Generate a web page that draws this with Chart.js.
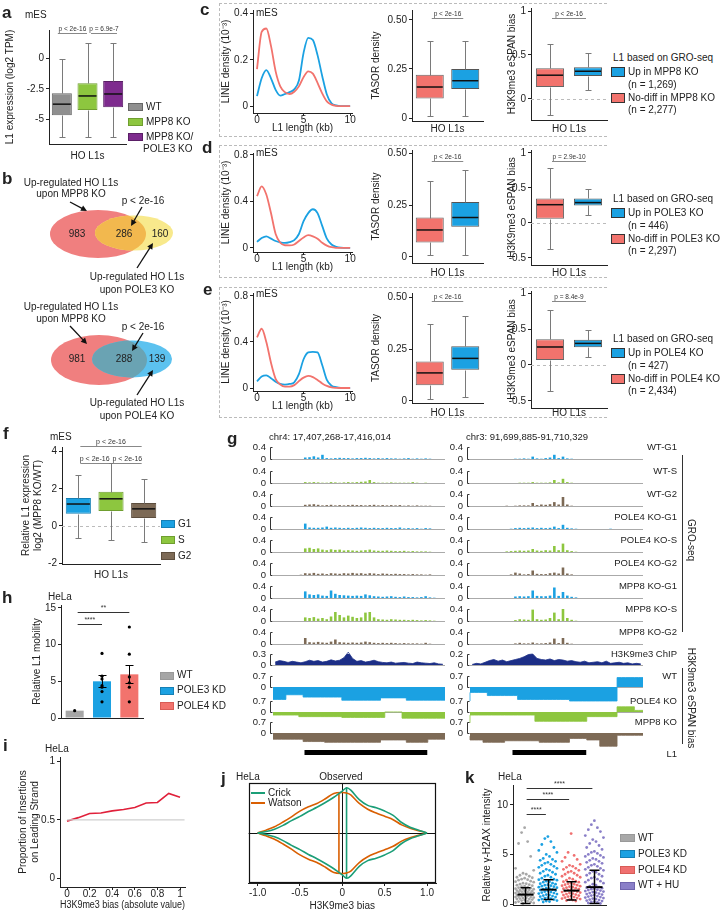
<!DOCTYPE html>
<html>
<head>
<meta charset="utf-8">
<title>L1 figure</title>
<script src="https://cdn.jsdelivr.net/npm/chart.js@4.4.1/dist/chart.umd.min.js"></script>
<style>
  body { margin: 0; background: #fff; }
  #page { position: relative; width: 721px; height: 914px; overflow: hidden; font-family: "Liberation Sans", Arial, sans-serif; color: #222; }
  #page canvas { position: absolute; }
  .t { position: absolute; white-space: nowrap; font-size: 10px; line-height: 1; transform: translateY(-50%); }
  .t.r { transform: translate(-100%, -50%); }
  .t.c { transform: translate(-50%, -50%); }
  .t.v { transform: translate(-50%, -50%) rotate(90deg); }
  .t.L { font-size: 17px; font-weight: bold; }
  .t.s { font-size: 9.5px; }
  .sw { position: absolute; box-sizing: border-box; border: 1px solid #555; }
  .ln { position: absolute; background: #333; }
  .dash { position: absolute; box-sizing: border-box; border-top: 1px dashed #bbb; border-bottom: 1px dashed #bbb; border-left: 1px dashed #bbb; }
</style>
</head>
<body>
<div id="page"></div>
<script>
// ==========================
// data
// ==========================

// ---------- a : L1 expression ----------
const aGroups = ['WT', 'MPP8 KO', 'MPP8 KO/POLE3 KO'];
// low whisker, Q1, median, Q3, high whisker
const aStats = [
    [-6.45, -4.65, -3.75, -2.85, -0.1],
    [-6.45, -4.22, -3.08, -2.05, 1.21],
    [-6.45, -4.0, -2.92, -1.86, 1.21]
];
const aTicks = [0, -2.5, -5];
const aTickLabels = ['0', '-2.5', '-5'];
const aPvals = ['p < 2e-16', 'p = 6.9e-7'];

// ---------- b : overlaps (MPP8 only, both, POLE only) ----------
const bPole3 = [983, 286, 160];
const bPole4 = [981, 288, 139];

// ---------- c-e : density + boxes ----------
const lenKb = [0, 0.5, 1, 1.5, 2, 2.5, 3, 3.5, 4, 4.5, 5, 5.5, 6, 6.5, 7, 7.5, 8, 8.5, 9, 10];
const cDensNo = [0.16, 0.32, 0.335, 0.26, 0.15, 0.085, 0.06, 0.052, 0.062, 0.085, 0.125, 0.15, 0.14, 0.1, 0.055, 0.02, 0.006, 0.001, 0, 0];
const cDensUp = [0.043, 0.12, 0.155, 0.12, 0.07, 0.045, 0.052, 0.06, 0.072, 0.11, 0.23, 0.295, 0.285, 0.22, 0.13, 0.05, 0.012, 0.003, 0, 0];
const dDensNo = [0.445, 0.53, 0.46, 0.3, 0.12, 0.045, 0.023, 0.022, 0.03, 0.06, 0.09, 0.11, 0.1, 0.08, 0.045, 0.02, 0.006, 0.001, 0, 0];
const dDensUp = [0.052, 0.085, 0.1, 0.08, 0.06, 0.048, 0.043, 0.05, 0.067, 0.12, 0.23, 0.3, 0.333, 0.3, 0.19, 0.08, 0.03, 0.01, 0.002, 0];
const eDensNo = [0.44, 0.515, 0.4, 0.22, 0.08, 0.03, 0.012, 0.012, 0.025, 0.06, 0.09, 0.105, 0.095, 0.07, 0.04, 0.018, 0.005, 0.001, 0, 0];
const eDensUp = [0.057, 0.1, 0.11, 0.085, 0.055, 0.035, 0.03, 0.035, 0.05, 0.12, 0.25, 0.31, 0.315, 0.31, 0.2, 0.07, 0.02, 0.007, 0.001, 0];

// [no-diff, up]  each: low, Q1, median, Q3, high
const cTasor = [[0.01, 0.10, 0.158, 0.22, 0.393], [0.01, 0.148, 0.19, 0.25, 0.393]];
const dTasor = [[0.01, 0.07, 0.13, 0.19, 0.365], [0.01, 0.145, 0.19, 0.265, 0.42]];
const eTasor = [[0.01, 0.075, 0.135, 0.19, 0.37], [0.018, 0.15, 0.205, 0.263, 0.41]];
const cEspan = [[-0.18, 0.136, 0.27, 0.35, 0.625], [0.1, 0.26, 0.315, 0.36, 0.52]];
const dEspan = [[-0.37, 0.06, 0.26, 0.35, 0.79], [0.12, 0.25, 0.29, 0.35, 0.49]];
const eEspan = [[-0.36, 0.07, 0.25, 0.357, 0.77], [0.107, 0.245, 0.3, 0.35, 0.49]];
const tasorTicks = [0, 0.25, 0.5];
const tasorLabels = ['0', '0.25', '0.50'];
const tasorP = ['p < 2e-16', 'p < 2e-16', 'p < 2e-16'];
const espanP = ['p < 2e-16', 'p = 2.9e-10', 'p = 8.4e-9'];
const cdeKO = ['MPP8 KO', 'POLE3 KO', 'POLE4 KO'];
const cdeNUp = ['1,269', '446', '427'];
const cdeNNo = ['2,277', '2,297', '2,434'];

// ---------- f : cell cycle ----------
const fGroups = ['G1', 'S', 'G2'];
const fStats = [
    [-0.65, 0.65, 1.18, 1.5, 2.75],
    [-0.75, 0.81, 1.46, 1.84, 3.4],
    [-0.85, 0.43, 0.92, 1.24, 2.54]
];
const fTicks = [4, 2, 0, -2];
const fTickLabels = ['4', '2', '0', '-2'];

// ---------- g : browser tracks (40 bins per locus) ----------
const groWtG1L = [0,0,0,0,0,0,0,.05,.06,.09,.05,.14,.03,.02,.03,.04,.03,.03,.02,.03,.03,.04,.03,.02,.03,.02,.03,.02,.02,.01,.02,.03,.01,.02,.01,.02,.01,0,0,0];
const groWtSL  = [0,0,0,0,0,0,0,.03,.02,.03,.02,.01,.01,.03,.02,.01,.02,.03,.02,.03,.04,.05,.1,.03,.01,.01,.01,.02,.01,.01,.01,.01,.03,.01,0,.01,0,0,0,0];
const groWtG2L = [0,0,0,0,0,0,0,.04,.05,.06,.04,.02,.03,.04,.02,.03,.02,.03,.04,.03,.03,.02,.03,.04,.02,.03,.02,.03,.02,.03,.01,.02,.01,.02,.01,.01,.01,0,0,0];
const groP4G1L = [0,0,0,0,0,0,0,.18,.05,.04,.04,.05,.08,.04,.05,.04,.03,.04,.03,.04,.05,.04,.03,.04,.03,.03,.04,.03,.03,.05,.02,.03,.02,.03,.01,.03,.02,0,0,0];
const groP4SL  = [0,0,0,0,0,0,0,.12,.14,.1,.12,.08,.06,.09,.07,.08,.05,.06,.05,.04,.05,.06,.08,.05,.04,.04,.05,.04,.03,.03,.04,.02,.03,.02,.02,.02,.01,0,0,0];
const groP4G2L = [0,0,0,0,0,0,.01,.06,.05,.07,.04,.05,.03,.06,.05,.04,.06,.05,.07,.05,.06,.04,.06,.05,.03,.05,.04,.03,.04,.03,.03,.02,.03,.02,.02,.01,.02,0,0,0];
const groM8G1L = [0,0,0,0,0,0,0,.22,.12,.1,.12,.08,.07,.25,.14,.1,.09,.08,.07,.08,.07,.12,.09,.06,.05,.04,.05,.06,.04,.03,.05,.03,.03,.02,.03,.06,.02,.01,0,0];
const groM8SL  = [0,0,0,0,0,0,0,.12,.1,.13,.08,.1,.06,.15,.3,.2,.12,.18,.14,.1,.12,.28,.3,.12,.06,.05,.04,.06,.05,.04,.04,.03,.04,.03,.02,.03,.02,.01,0,0];
const groM8G2L = [0,0,0,0,0,0,0,.2,.06,.05,.07,.05,.04,.08,.15,.06,.05,.04,.05,.04,.05,.08,.06,.04,.03,.04,.03,.04,.03,.02,.03,.02,.02,.02,.01,.04,.01,0,0,0];

const groWtG1R = [0,0,0,0,0,0,0,0,0,0,.01,.01,.02,.01,.08,.02,.01,.03,.05,.14,.03,.08,.02,.01,0,0,0,0,0,0,0,0,0,0,0,0,0,0,0,0];
const groWtSR  = [0,0,0,0,0,0,0,0,0,0,0,.01,.01,.01,.03,.01,.01,.01,.02,.1,.02,.14,.03,.01,0,0,0,0,0,0,0,0,0,0,0,0,0,0,0,0];
const groWtG2R = [0,0,0,0,0,0,0,0,.01,0,.01,.02,.02,.02,.1,.03,.05,.04,.06,.13,.05,.3,.05,.01,0,0,0,0,0,0,0,0,0,0,0,0,0,0,0,0];
const groP4G1R = [0,0,0,0,0,0,0,0,0,.01,.03,.04,.03,.04,.05,.03,.04,.03,.04,.08,.03,.14,.04,.02,.01,0,0,0,0,0,0,0,.01,0,0,0,0,0,0,0];
const groP4SR  = [0,0,0,0,0,0,0,0,.02,.03,.04,.05,.04,.05,.1,.05,.04,.06,.05,.2,.06,.28,.06,.03,.01,0,0,0,0,0,0,0,0,0,0,0,0,0,0,0];
const groP4G2R = [0,0,0,0,0,0,0,0,0,.02,.08,.05,.02,.03,.15,.04,.03,.03,.06,.08,.05,.25,.05,.02,0,0,0,0,0,0,0,0,0,0,0,0,0,0,0,0];
const groM8G1R = [0,0,0,0,0,0,0,0,0,0,.05,.06,.05,.06,.25,.07,.06,.06,.08,.35,.07,.2,.08,.04,.02,0,0,0,0,0,0,0,0,0,0,0,0,0,0,0];
const groM8SR  = [0,0,0,0,0,0,0,0,0,0,.03,.06,.05,.04,.38,.06,.04,.05,.1,.28,.06,.4,.1,.04,.01,0,0,0,0,0,0,0,0,0,0,0,0,0,0,0];
const groM8G2R = [0,0,0,0,0,0,0,0,0,0,.02,.04,.02,.02,.05,.02,.02,.03,.05,.18,.03,.2,.04,.01,0,0,0,0,0,0,0,0,0,0,0,0,0,0,0,0];

const chipL = [.08,.12,.1,.07,.1,.08,.06,.09,.13,.1,.12,.08,.1,.14,.11,.13,.2,.35,.18,.1,.12,.08,.1,.13,.09,.07,.06,.08,.05,.06,.07,.05,.04,.08,.06,.05,.04,.06,.03,.02];
const chipR = [.01,.03,.02,.05,.08,.1,.07,.09,.06,.08,.1,.12,.15,.19,.2,.12,.1,.09,.11,.08,.1,.09,.07,.08,.06,.05,.07,.04,.05,.06,.04,.07,.03,.04,.05,.03,.04,.02,.03,.02];

const espWtL = [-.8,-.8,-.8,-.8,-.5,-.5,-.5,-.5,-.65,-.65,-.65,-.65,-.65,-.65,-.65,-.65,-.65,-.85,-.85,-.85,-.85,-.85,-.85,-.85,-.85,-.85,-.7,-.7,-.7,-.7,-.7,-.7,-.85,-.85,-.85,-.85,-.85,-.85,-.85,-.85];
const espWtR = [-.9,-.35,-.35,-.35,-.35,-.55,-.55,-.55,-.55,-.55,-.55,-.55,-.8,-.8,-.8,-.8,-.8,-.8,-.8,-.8,-.8,-.8,-.8,-.8,-.9,-.9,-.9,-.9,-.9,-.9,-.9,-.9,-.9,-.9,-.9,.6,.6,.6,.6,.6];
const espP4L = [-.2,-.2,-.2,-.2,-.2,-.2,-.2,-.3,-.3,-.3,-.3,-.3,-.3,-.3,-.3,-.3,-.3,-.35,-.35,-.35,-.35,-.35,-.35,-.35,-.35,-.35,-.35,0,0,0,0,-.4,-.4,-.4,-.4,-.4,-.4,-.4,-.4,-.4];
const espP4R = [-.7,-.2,-.2,-.2,-.2,-.2,-.2,-.2,-.2,-.2,-.2,-.2,-.2,-.2,-.2,-.2,-.6,-.6,-.6,-.6,-.6,-.6,-.6,-.6,-.6,-.6,-.6,-.6,-.3,-.3,-.3,-.3,-.3,-.3,-.3,.33,.33,.33,.33,.1];
const espM8L = [-.4,-.4,-.4,-.4,-.4,-.4,-.4,-.4,-.55,-.55,-.55,-.55,-.55,-.6,-.6,-.6,-.6,-.6,-.6,-.6,-.6,-.6,-.6,-.6,-.6,-.6,-.45,-.45,-.45,-.45,-.45,-.45,-.6,-.6,-.6,-.6,-.6,-.4,-.4,-.4];
const espM8R = [-.2,-.45,-.45,-.45,-.6,-.6,-.6,-.6,-.6,-.5,-.5,-.5,-.5,-.5,-.5,-.5,-.5,-.6,-.6,-.6,-.6,-.6,-.6,-.6,-.35,-.35,-.35,-.35,-.45,-.45,-.45,-.85,-.85,-.85,-.85,-.15,-.15,-.15,-.15,-.15];

const l1SpanL = [7.4, 35.8];
const l1SpanR = [9.9, 26.8];
const gTrackNames = ['WT-G1', 'WT-S', 'WT-G2', 'POLE4 KO-G1', 'POLE4 KO-S', 'POLE4 KO-G2', 'MPP8 KO-G1', 'MPP8 KO-S', 'MPP8 KO-G2', 'H3K9me3 ChIP', 'WT', 'POLE4 KO', 'MPP8 KO'];

// ---------- h : L1 mobility ----------
const hGroups = ['WT', 'POLE3 KD', 'POLE4 KD'];
const hMean = [1, 5.0, 5.95];
const hErrLo = [1, 4.2, 4.8];
const hErrHi = [1, 5.85, 7.2];
const hPts = [[1.0], [8.8, 5.7, 5.3, 4.4, 4.2, 3.6, 2.2], [12.4, 8.7, 5.6, 4.8, 4.2, 2.2]];
const hTicks = [0, 5, 10, 15];

// ---------- i : leading strand ----------
const iBias = [0, 0.1, 0.2, 0.3, 0.4, 0.5, 0.6, 0.7, 0.8, 0.9, 1.0];
const iProp = [0.49, 0.52, 0.555, 0.56, 0.578, 0.59, 0.607, 0.645, 0.65, 0.728, 0.695];
const iRef = 0.5;

// ---------- j : observed bias ----------
const jBias = [-1, -0.9, -0.8, -0.7, -0.6, -0.5, -0.4, -0.3, -0.2, -0.1, 0, 0.05, 0.1, 0.2, 0.3, 0.4, 0.5, 0.6, 0.7, 0.8, 0.9, 1];
const jWatson = [0, 0.06, 0.13, 0.23, 0.34, 0.46, 0.55, 0.62, 0.72, 0.83, 0.85, 0.84, 0.8, 0.62, 0.5, 0.42, 0.35, 0.28, 0.17, 0.1, 0.05, 0];
const jCrick = [0, 0.03, 0.08, 0.16, 0.26, 0.35, 0.45, 0.54, 0.64, 0.75, 0.88, 0.95, 0.9, 0.7, 0.58, 0.53, 0.46, 0.37, 0.22, 0.12, 0.06, 0];
const jObsWatson = -0.04;
const jObsCrick = 0.05;

// ---------- k : gamma-H2AX ----------
const kGroups = ['WT', 'POLE3 KD', 'POLE4 KD', 'WT + HU'];
const kWT = [7.7, 7.2, 6.3, 6.1, 4.8, 3.6, 3.4, 3.1, 3.0, 2.9, 2.8, 2.7, 2.65, 2.6, 2.5, 2.45, 2.4, 2.3, 2.25, 2.2, 2.1, 2.05, 2.0, 1.95, 1.9, 1.85, 1.8, 1.75, 1.7, 1.65, 1.6, 1.55, 1.5, 1.5, 1.45, 1.4, 1.4, 1.35, 1.3, 1.3, 1.25, 1.2, 1.2, 1.15, 1.1, 1.1, 1.05, 1.0, 1.0, 0.95, 0.9, 0.9, 0.85, 0.8, 0.8, 0.75, 0.7, 0.7, 0.65, 0.6, 0.6, 0.55, 0.5, 0.5, 0.45, 0.4, 0.35, 0.3, 0.25, 0.2, 0.15, 0.1, 0.05];
const kPole3 = [6.8, 6.6, 6.3, 6.0, 5.7, 5.4, 5.2, 5.0, 4.8, 4.6, 4.5, 4.4, 4.3, 4.2, 4.1, 4.0, 3.9, 3.8, 3.7, 3.6, 3.5, 3.4, 3.3, 3.2, 3.1, 3.0, 2.9, 2.8, 2.7, 2.6, 2.5, 2.45, 2.4, 2.3, 2.25, 2.2, 2.1, 2.05, 2.0, 1.95, 1.9, 1.85, 1.8, 1.75, 1.7, 1.65, 1.6, 1.55, 1.5, 1.45, 1.4, 1.35, 1.3, 1.25, 1.2, 1.15, 1.1, 1.05, 1.0, 0.95, 0.9, 0.85, 0.8, 0.75, 0.7, 0.65, 0.6, 0.55, 0.5, 0.45, 0.4, 0.35, 0.3, 0.25, 0.2];
const kPole4 = [7.1, 5.2, 4.9, 4.7, 4.5, 4.3, 4.0, 3.9, 3.8, 3.7, 3.6, 3.5, 3.4, 3.3, 3.2, 3.1, 3.0, 2.9, 2.8, 2.7, 2.6, 2.5, 2.4, 2.3, 2.25, 2.2, 2.1, 2.05, 2.0, 1.95, 1.9, 1.85, 1.8, 1.75, 1.7, 1.65, 1.6, 1.55, 1.5, 1.45, 1.4, 1.35, 1.3, 1.25, 1.2, 1.15, 1.1, 1.05, 1.0, 0.95, 0.9, 0.85, 0.8, 0.75, 0.7, 0.65, 0.6, 0.55, 0.5, 0.45, 0.4, 0.35, 0.3];
const kHU = [8.4, 8.0, 7.7, 7.5, 7.3, 6.9, 6.7, 6.5, 6.3, 6.1, 5.9, 5.7, 5.5, 5.3, 5.2, 5.1, 5.0, 4.9, 4.8, 4.7, 4.6, 4.5, 4.4, 4.3, 4.2, 4.1, 4.0, 3.9, 3.8, 3.7, 3.6, 3.5, 3.4, 3.3, 3.2, 3.1, 3.0, 2.9, 2.8, 2.7, 2.6, 2.5, 2.4, 2.3, 2.2, 2.1, 2.0, 1.9, 1.8, 1.7, 1.65, 1.6, 1.55, 1.5, 1.45, 1.4, 1.35, 1.3, 1.25, 1.2, 1.15, 1.1, 1.05, 1.0, 0.95, 0.9, 0.85, 0.8, 0.75, 0.7, 0.65, 0.6, 0.55, 0.5, 0.45, 0.4, 0.35, 0.3, 0.25, 0.2, 0.15, 0.1, 0.05];
const kMean = [0.95, 1.45, 1.35, 1.7];
const kSdLo = [0.05, 0.45, 0.4, 0.05];
const kSdHi = [1.65, 2.45, 2.25, 3.4];
const kTicks = [0, 5, 10];

// ==========================
// styling / helpers
// ==========================

Chart.defaults.font.family = '"Liberation Sans", Arial, sans-serif';
Chart.defaults.font.size = 10;
Chart.defaults.color = '#222';
Chart.defaults.animation = false;
Chart.defaults.responsive = false;
Chart.defaults.plugins.legend.display = false;
Chart.defaults.plugins.tooltip.enabled = false;

const INK = '#222';
const RED = '#f2736d';
const BLUE = '#1ba1e2';
const GREEN = '#8dc63f';
const BROWN = '#7d6a56';
const GRAY = '#8f8f8f';
const PURPLE = '#7e2b8e';
const NAVY = '#1c2e86';
const PADB = 8;

const page = document.getElementById('page');

// canvas whose chart area lands on [L,R] x [T,B] of the page
function makeCanvas(L, T, R, B, yW, xH, padT, padR, padB) {
    const c = document.createElement('canvas');
    c.width = Math.round(R - L + yW + padR);
    c.height = Math.round(B - T + xH + padT + padB);
    c.style.left = Math.round(L - yW) + 'px';
    c.style.top = Math.round(T - padT) + 'px';
    page.appendChild(c);
    return c;
}

function txt(x, y, s, cls, extra) {
    const d = document.createElement('div');
    d.className = 't ' + (cls || '');
    d.style.left = x + 'px';
    d.style.top = y + 'px';
    if (extra) d.style.cssText += extra;
    d.textContent = s;
    page.appendChild(d);
}

function box(cls, x, y, w, h, extra) {
    const d = document.createElement('div');
    d.className = cls;
    d.style.cssText = `left:${x}px;top:${y}px;width:${w}px;height:${h}px;` + (extra || '');
    page.appendChild(d);
}

function yLin(min, max, ticks, labels, w, title) {
    return {
        type: 'linear', min: min, max: max,
        afterBuildTicks: s => { s.ticks = ticks.map(v => ({value: v})); },
        afterFit: s => { s.width = w; },
        border: {color: INK},
        grid: {drawOnChartArea: false, tickLength: 3, color: INK},
        ticks: {padding: 2, autoSkip: false, callback: v => labels[ticks.indexOf(v)]},
        title: title ? {display: true, text: title, padding: 0} : {display: false}
    };
}

function xCat(h, title) {
    return {
        type: 'category', offset: true,
        afterFit: s => { s.height = h; },
        border: {color: INK},
        grid: {display: false, drawTicks: false},
        ticks: {display: false},
        title: title ? {display: true, text: title, padding: 0} : {display: false}
    };
}

function xLin(min, max, ticks, labels, h, title, pad) {
    return {
        type: 'linear', min: min, max: max,
        afterBuildTicks: s => { s.ticks = ticks.map(v => ({value: v})); },
        afterFit: s => { s.height = h; },
        border: {color: INK},
        grid: {drawOnChartArea: false, tickLength: 3, color: INK},
        ticks: {padding: pad, autoSkip: false, maxRotation: 0, callback: v => labels[ticks.indexOf(v)]},
        title: title ? {display: true, text: title, padding: 0} : {display: false}
    };
}

// ---------- plugins ----------

function boxLayer(stats, cap) {
    return {
        id: 'boxLayer',
        afterDatasetsDraw(chart) {
            const ctx = chart.ctx, y = chart.scales.y;
            const py = v => Math.round(y.getPixelForValue(v)) + 0.5;
            chart.getDatasetMeta(0).data.forEach((bar, i) => {
                const s = stats[i];
                const x = Math.round(bar.x) + 0.5, hw = bar.width / 2;
                ctx.save();
                ctx.strokeStyle = '#7a7a7a';
                ctx.lineWidth = 1;
                ctx.beginPath();
                ctx.moveTo(x, py(s[3])); ctx.lineTo(x, py(s[4]));
                ctx.moveTo(x - cap, py(s[4])); ctx.lineTo(x + cap, py(s[4]));
                ctx.moveTo(x, py(s[1])); ctx.lineTo(x, py(s[0]));
                ctx.moveTo(x - cap, py(s[0])); ctx.lineTo(x + cap, py(s[0]));
                ctx.stroke();
                ctx.strokeStyle = '#111';
                ctx.lineWidth = 1.5;
                ctx.beginPath();
                ctx.moveTo(bar.x - hw + 1, y.getPixelForValue(s[2]));
                ctx.lineTo(bar.x + hw - 1, y.getPixelForValue(s[2]));
                ctx.stroke();
                ctx.restore();
            });
        }
    };
}

// items: [from, to, value, text, insetFrom, insetTo]
function bracketLayer(items, size, lineColor) {
    return {
        id: 'bracketLayer',
        afterDatasetsDraw(chart) {
            const ctx = chart.ctx, x = chart.scales.x, y = chart.scales.y;
            ctx.save();
            ctx.strokeStyle = lineColor;
            ctx.lineWidth = 1;
            ctx.fillStyle = '#333';
            ctx.font = size + 'px "Liberation Sans", Arial, sans-serif';
            ctx.textAlign = 'center';
            ctx.textBaseline = 'bottom';
            items.forEach(it => {
                const x1 = x.getPixelForValue(it[0]) + (it[4] === undefined ? 2 : it[4]);
                const x2 = x.getPixelForValue(it[1]) + (it[5] === undefined ? -2 : it[5]);
                const p = Math.round(y.getPixelForValue(it[2])) + 0.5;
                ctx.beginPath(); ctx.moveTo(x1, p); ctx.lineTo(x2, p); ctx.stroke();
                ctx.fillText(it[3], (x1 + x2) / 2, p - 1);
            });
            ctx.restore();
        }
    };
}

function zeroLayer(color) {
    return {
        id: 'zeroLayer',
        beforeDatasetsDraw(chart) {
            const {ctx, chartArea: a} = chart;
            const p = Math.round(chart.scales.y.getPixelForValue(0)) + 0.5;
            ctx.save();
            ctx.strokeStyle = color;
            ctx.setLineDash([3, 3]);
            ctx.beginPath(); ctx.moveTo(a.left, p); ctx.lineTo(a.right, p); ctx.stroke();
            ctx.restore();
        }
    };
}

function trackFrame(topVal) {
    return {
        id: 'trackFrame',
        beforeDatasetsDraw(chart) {
            const {ctx, chartArea: a} = chart;
            const p = Math.round(chart.scales.y.getPixelForValue(0)) + 0.5;
            ctx.save();
            ctx.strokeStyle = '#aaa';
            ctx.beginPath(); ctx.moveTo(a.left, p); ctx.lineTo(a.right, p); ctx.stroke();
            ctx.restore();
        },
        afterDraw(chart) {
            const {ctx, chartArea: a} = chart, y = chart.scales.y;
            const y0 = Math.round(y.getPixelForValue(0)) + 0.5;
            const y1 = Math.round(y.getPixelForValue(topVal)) + 0.5;
            const x = Math.round(a.left) - 2.5;
            ctx.save();
            ctx.strokeStyle = '#333';
            ctx.beginPath();
            ctx.moveTo(x + 2, y1); ctx.lineTo(x, y1); ctx.lineTo(x, y0); ctx.lineTo(x + 2, y0);
            ctx.stroke();
            ctx.restore();
        }
    };
}

// ---------- chart builders ----------

function boxChart(o) {
    const cv = makeCanvas(o.L, o.T, o.R, o.B, o.yW, o.xH, 12, 6, PADB);
    const plugins = [boxLayer(o.stats, o.cap || 3), bracketLayer(o.brackets, o.pSize || 7, '#888')];
    if (o.zero) plugins.unshift(zeroLayer('#bbb'));
    new Chart(cv, {
        type: 'bar',
        data: {
            labels: o.labels,
            datasets: [{
                data: o.stats.map(s => [s[1], s[3]]),
                backgroundColor: o.fill, borderColor: o.edge, borderWidth: 1, borderSkipped: false,
                barPercentage: o.frac, categoryPercentage: 1
            }]
        },
        options: {
            layout: {padding: {left: 0, top: 12, right: 6, bottom: PADB}},
            scales: {
                x: xCat(o.xH, o.xTitle),
                y: yLin(o.min, o.max, o.ticks, o.tickLabels, o.yW, o.title)
            }
        },
        plugins: plugins
    });
}

function densityChart(o) {
    const cv = makeCanvas(253, o.T, 352, o.B, 33, 21, 8, 8, PADB);
    const line = (vals, color) => ({
        data: lenKb.map((x, i) => ({x: x, y: vals[i]})),
        borderColor: color, borderWidth: 1.8, pointRadius: 0,
        tension: 0.4, cubicInterpolationMode: 'monotone', fill: false
    });
    new Chart(cv, {
        type: 'line',
        data: {datasets: [line(o.no, RED), line(o.up, BLUE)]},
        options: {
            layout: {padding: {left: 0, top: 8, right: 8, bottom: PADB}},
            scales: {
                x: xLin(-0.43, 10.2, [0, 5, 10], ['0', '5', '10'], 21, 'L1 length (kb)', -2),
                y: yLin(o.min, o.max, o.ticks, o.labels, 33, 'LINE density (10\u207B\u00B3)')
            }
        }
    });
}

function trackChart(o) {
    const cv = makeCanvas(o.L, o.T, o.R, o.B, o.yW, 0, 14, 2, 14);
    const yAxis = {
        type: 'linear', min: o.min, max: o.max,
        afterBuildTicks: s => { s.ticks = o.ticks.map(v => ({value: v})); },
        afterFit: s => { s.width = o.yW; },
        border: {display: false},
        grid: {display: false, drawTicks: false},
        ticks: {padding: 7, autoSkip: false, font: {size: 9.5}, callback: v => o.labels[o.ticks.indexOf(v)]}
    };
    let data, xAxis;
    if (o.kind === 'bar') {
        xAxis = {type: 'category', display: false, offset: true};
        data = {
            labels: o.vals.map((v, i) => i),
            datasets: [{data: o.vals, backgroundColor: o.color, barPercentage: 0.6, categoryPercentage: 1, clip: false}]
        };
    } else {
        xAxis = {type: 'linear', display: false, min: 0, max: o.vals.length};
        const pts = o.kind === 'step'
            ? o.vals.map((v, i) => ({x: i, y: v})).concat([{x: o.vals.length, y: o.vals[o.vals.length - 1]}])
            : o.vals.map((v, i) => ({x: i + 0.5, y: v}));
        data = {
            datasets: [{
                data: pts, stepped: o.kind === 'step' ? 'after' : false, fill: 'origin',
                backgroundColor: o.color, borderColor: o.color, borderWidth: 0.8, pointRadius: 0, tension: 0, clip: false
            }]
        };
    }
    new Chart(cv, {
        type: o.kind === 'bar' ? 'bar' : 'line',
        data: data,
        options: {layout: {padding: {left: 0, top: 14, right: 2, bottom: 14}}, scales: {x: xAxis, y: yAxis}},
        plugins: [trackFrame(o.ticks[o.ticks.length - 1])]
    });
}

function l1Bar(L, R, span) {
    const cv = makeCanvas(L, 750, R, 755, 0, 0, 2, 2, 2);
    new Chart(cv, {
        type: 'bar',
        data: {labels: ['L1'], datasets: [{data: [span], backgroundColor: '#000', barPercentage: 1, categoryPercentage: 1}]},
        options: {
            indexAxis: 'y',
            layout: {padding: {left: 0, top: 2, right: 2, bottom: 2}},
            scales: {x: {type: 'linear', min: 0, max: 40, display: false}, y: {display: false}}
        }
    });
}

// ==========================
// a
// ==========================
boxChart({
    L: 49, T: 30, R: 126, B: 144, yW: 45, xH: 18, min: -7, max: 2.3,
    ticks: aTicks, tickLabels: aTickLabels, labels: aGroups, stats: aStats,
    fill: [GRAY, GREEN, PURPLE], edge: ['#666', '#6f9e2f', '#5a1f66'], frac: 0.78, cap: 3,
    title: 'L1 expression (log2 TPM)', xTitle: 'HO L1s',
    brackets: [[0, 1, 2.06, aPvals[0], -4, -0.5], [1, 2, 2.06, aPvals[1], 3.5, 3.8]], pSize: 6.5
});
txt(2, 12, 'a', 'L');
txt(25, 15, 'mES');
box('sw', 128, 103, 15, 8, `background:${GRAY};border-color:#666`);
box('sw', 128, 118, 15, 8, `background:${GREEN};border-color:#6f9e2f`);
box('sw', 128, 133, 15, 8, `background:${PURPLE};border-color:#5a1f66`);
txt(146, 107, 'WT');
txt(146, 122, 'MPP8 KO');
txt(146, 137, 'MPP8 KO/');
txt(143, 149, 'POLE3 KO');

// ==========================
// b : Venn diagrams
// ==========================
function arrow(ctx, x1, y1, x2, y2) {
    const ang = Math.atan2(y2 - y1, x2 - x1);
    ctx.save();
    ctx.strokeStyle = '#111';
    ctx.fillStyle = '#111';
    ctx.lineWidth = 1.3;
    ctx.beginPath(); ctx.moveTo(x1, y1);
    ctx.lineTo(x2 - 4 * Math.cos(ang), y2 - 4 * Math.sin(ang)); ctx.stroke();
    ctx.beginPath();
    ctx.moveTo(x2, y2);
    ctx.lineTo(x2 - 6 * Math.cos(ang) + 3 * Math.sin(ang), y2 - 6 * Math.sin(ang) - 3 * Math.cos(ang));
    ctx.lineTo(x2 - 6 * Math.cos(ang) - 3 * Math.sin(ang), y2 - 6 * Math.sin(ang) + 3 * Math.cos(ang));
    ctx.closePath(); ctx.fill();
    ctx.restore();
}

const vennLayout = [
    {counts: bPole3, a: [98, 64, 48, 24], b: [134, 63, 39, 17.5], colA: '#f07f7f', colB: '#f8e98c', colAB: '#f2b84e',
     at: [77, 124, 160], ty: 64, arrows: [[70, 32, 87, 41], [142, 37, 131, 56], [137, 98, 153, 73]]},
    {counts: bPole4, a: [99, 190, 48, 25], b: [132, 189, 40, 18.5], colA: '#f07f7f', colB: '#5cc2ef', colAB: '#6aa3b3',
     at: [77, 124, 157], ty: 189, arrows: [[70, 156, 87, 174], [143, 163, 132, 181], [137, 225, 153, 200]]}
];
{
    const cv = makeCanvas(0, 170, 200, 430, 0, 0, 0, 0, 0);
    new Chart(cv, {
        type: 'scatter',
        data: {datasets: [{data: []}]},
        options: {
            layout: {padding: 0},
            scales: {
                x: {type: 'linear', min: 0, max: 200, display: false},
                y: {type: 'linear', min: 0, max: 260, reverse: true, display: false}
            }
        },
        plugins: [{
            id: 'venn',
            afterDraw(chart) {
                const ctx = chart.ctx, X = chart.scales.x, Y = chart.scales.y;
                const ell = e => {
                    ctx.beginPath();
                    ctx.ellipse(X.getPixelForValue(e[0]), Y.getPixelForValue(e[1]),
                        X.getPixelForValue(e[0] + e[2]) - X.getPixelForValue(e[0]),
                        Y.getPixelForValue(e[1] + e[3]) - Y.getPixelForValue(e[1]), 0, 0, Math.PI * 2);
                };
                vennLayout.forEach(s => {
                    ctx.save();
                    ell(s.a); ctx.fillStyle = s.colA; ctx.fill();
                    ell(s.b); ctx.fillStyle = s.colB; ctx.fill();
                    ell(s.a); ctx.clip();
                    ell(s.b); ctx.fillStyle = s.colAB; ctx.fill();
                    ctx.restore();
                    ctx.save();
                    ctx.fillStyle = '#222';
                    ctx.font = '10px "Liberation Sans", Arial, sans-serif';
                    ctx.textAlign = 'center';
                    ctx.textBaseline = 'middle';
                    s.counts.forEach((n, i) => ctx.fillText(String(n), X.getPixelForValue(s.at[i]), Y.getPixelForValue(s.ty)));
                    ctx.restore();
                    s.arrows.forEach(a => arrow(ctx, X.getPixelForValue(a[0]), Y.getPixelForValue(a[1]),
                        X.getPixelForValue(a[2]), Y.getPixelForValue(a[3])));
                });
            }
        }]
    });
}
txt(2, 178, 'b', 'L');
txt(71, 183, 'Up-regulated HO L1s', 'c');
txt(71, 194, 'upon MPP8 KO', 'c');
txt(143, 201, 'p < 2e-16', 'c');
txt(137, 277, 'Up-regulated HO L1s', 'c');
txt(137, 290, 'upon POLE3 KO', 'c');
txt(71, 307, 'Up-regulated HO L1s', 'c');
txt(71, 319, 'upon MPP8 KO', 'c');
txt(143, 327, 'p < 2e-16', 'c');
txt(137, 403, 'Up-regulated HO L1s', 'c');
txt(137, 416, 'upon POLE4 KO', 'c');

// ==========================
// c, d, e
// ==========================
const cdeGeom = [
    {dens: {T: 10, B: 113, min: -0.03, max: 0.415, ticks: [0, 0.2, 0.4], labels: ['0', '0.2', '0.4']},
     tas: {T: 10, B: 121, min: -0.015, max: 0.55, xH: 14, p: 0.509},
     esp: {T: 8, B: 120, min: -0.24, max: 1.035, ticks: [0, 0.5, 1], labels: ['0', '0.5', '1'], xH: 15, p: 0.92},
     box: [3, 134], letter: 9, mes: 13, leg: 58},
    {dens: {T: 153, B: 252, min: -0.035, max: 0.817, ticks: [0, 0.4, 0.8], labels: ['0', '0.4', '0.8']},
     tas: {T: 150, B: 263, min: -0.029, max: 0.515, xH: 16, p: 0.462},
     esp: {T: 150, B: 265, min: -0.6, max: 1.04, ticks: [-0.5, 0, 0.5, 1], labels: ['-0.5', '0', '0.5', '1'], xH: 14, p: 0.883},
     box: [145, 133], letter: 147, mes: 153, leg: 199},
    {dens: {T: 293, B: 391, min: -0.026, max: 0.826, ticks: [0, 0.4, 0.8], labels: ['0', '0.4', '0.8']},
     tas: {T: 293, B: 403, min: -0.01, max: 0.52, xH: 16, p: 0.48},
     esp: {T: 291, B: 408, min: -0.6, max: 1.03, ticks: [-0.5, 0, 0.5, 1], labels: ['-0.5', '0', '0.5', '1'], xH: 11, p: 0.89},
     box: [287, 131], letter: 289, mes: 294, leg: 339}
];
const cdeDens = [[cDensUp, cDensNo], [dDensUp, dDensNo], [eDensUp, eDensNo]];
const cdeTasor = [cTasor, dTasor, eTasor];
const cdeEspan = [cEspan, dEspan, eEspan];
const cdeLetter = ['c', 'd', 'e'];
const cdeLetterX = [200, 202, 203];

cdeGeom.forEach((g, k) => {
    box('dash', 219, g.box[0], 388, g.box[1]);
    densityChart({T: g.dens.T, B: g.dens.B, min: g.dens.min, max: g.dens.max, ticks: g.dens.ticks, labels: g.dens.labels,
        up: cdeDens[k][0], no: cdeDens[k][1]});
    boxChart({
        L: 412, T: g.tas.T, R: 483, B: g.tas.B, yW: 42, xH: g.tas.xH, min: g.tas.min, max: g.tas.max,
        ticks: tasorTicks, tickLabels: tasorLabels, labels: ['No-diff', 'Up'], stats: cdeTasor[k],
        fill: [RED, BLUE], edge: ['#666', '#555'], frac: 0.79, cap: 3,
        title: 'TASOR density', xTitle: 'HO L1s', brackets: [[0, 1, g.tas.p, tasorP[k]]], pSize: 6.5
    });
    boxChart({
        L: 531, T: g.esp.T, R: 607, B: g.esp.B, yW: 25, xH: g.esp.xH, min: g.esp.min, max: g.esp.max,
        ticks: g.esp.ticks, tickLabels: g.esp.labels, labels: ['No-diff', 'Up'], stats: cdeEspan[k],
        fill: [RED, BLUE], edge: ['#666', '#555'], frac: 0.74, cap: 3, zero: true,
        title: 'H3K9me3 eSPAN bias', xTitle: 'HO L1s', brackets: [[0, 1, g.esp.p, espanP[k]]], pSize: 6.5
    });
    txt(cdeLetterX[k], g.letter, cdeLetter[k], 'L');
    txt(256, g.mes, 'mES');
    txt(613, g.leg, 'L1 based on GRO-seq');
    box('sw', 611, g.leg + 9, 14, 10, `background:${BLUE};border-color:#333`);
    txt(628, g.leg + 14, 'Up in ' + cdeKO[k]);
    txt(628, g.leg + 27, '(n = ' + cdeNUp[k] + ')');
    box('sw', 611, g.leg + 35, 14, 10, `background:${RED};border-color:#333`);
    txt(628, g.leg + 40, 'No-diff in ' + cdeKO[k]);
    txt(628, g.leg + 52, '(n = ' + cdeNNo[k] + ')');
});

// ==========================
// f
// ==========================
boxChart({
    L: 62, T: 447, R: 160, B: 564, yW: 42, xH: 17, min: -2.05, max: 4.25,
    ticks: fTicks, tickLabels: fTickLabels, labels: fGroups, stats: fStats,
    fill: [BLUE, GREEN, BROWN], edge: ['#1580b5', '#6f9e2f', '#5d4e3e'], frac: 0.77, cap: 3, zero: true,
    title: ['Relative L1 expression', 'log2 (MPP8 KO/WT)'], xTitle: 'HO L1s',
    brackets: [[0, 2, 4.3, 'p < 2e-16'], [0, 1, 3.4, 'p < 2e-16'], [1, 2, 3.4, 'p < 2e-16']]
});
txt(3, 433, 'f', 'L');
txt(50, 437, 'mES');
box('sw', 161, 520, 14, 8, `background:${BLUE};border-color:#1580b5`);
box('sw', 161, 536, 14, 8, `background:${GREEN};border-color:#6f9e2f`);
box('sw', 161, 552, 14, 8, `background:${BROWN};border-color:#5d4e3e`);
txt(178, 524, 'G1');
txt(178, 540, 'S');
txt(178, 556, 'G2');

// ==========================
// g : browser tracks
// ==========================
txt(227, 438, 'g', 'L');
txt(269, 437, 'chr4: 17,407,268-17,416,014', 's');
txt(466, 437, 'chr3: 91,699,885-91,710,329', 's');

const groZero = [458, 482, 505, 528, 551, 574, 597, 620, 643];
const groLeft = [groWtG1L, groWtSL, groWtG2L, groP4G1L, groP4SL, groP4G2L, groM8G1L, groM8SL, groM8G2L];
const groRight = [groWtG1R, groWtSR, groWtG2R, groP4G1R, groP4SR, groP4G2R, groM8G1R, groM8SR, groM8G2R];
const groColor = [BLUE, GREEN, BROWN, BLUE, GREEN, BROWN, BLUE, GREEN, BROWN];
groZero.forEach((z, r) => {
    trackChart({L: 273, R: 445, T: z - 11.5, B: z, min: 0, max: 0.4, ticks: [0, 0.4], labels: ['0', '0.4'], yW: 33,
        kind: 'bar', vals: groLeft[r], color: groColor[r]});
    trackChart({L: 470, R: 643, T: z - 11.5, B: z, min: 0, max: 0.4, ticks: [0, 0.4], labels: ['0', '0.4'], yW: 24,
        kind: 'bar', vals: groRight[r], color: groColor[r]});
    txt(677, z - 11, gTrackNames[r], 'r s');
});
trackChart({L: 273, R: 445, T: 654, B: 665, min: 0, max: 0.3, ticks: [0, 0.3], labels: ['0', '0.3'], yW: 33,
    kind: 'area', vals: chipL, color: NAVY});
trackChart({L: 470, R: 643, T: 654, B: 665, min: 0, max: 0.2, ticks: [0, 0.2], labels: ['0', '0.2'], yW: 24,
    kind: 'area', vals: chipR, color: NAVY});
txt(677, 654, gTrackNames[9], 'r s');

const espZero = [687, 711.5, 733.3];
const espLeft = [espWtL, espP4L, espM8L];
const espRight = [espWtR, espP4R, espM8R];
const espColor = [BLUE, GREEN, BROWN];
espZero.forEach((z, r) => {
    trackChart({L: 273, R: 445, T: z - 11, B: z + 14.1, min: -0.9, max: 0.7, ticks: [0, 0.7], labels: ['0', '0.7'], yW: 33,
        kind: 'step', vals: espLeft[r], color: espColor[r]});
    trackChart({L: 470, R: 643, T: z - 11, B: z + 14.1, min: -0.9, max: 0.7, ticks: [0, 0.7], labels: ['0', '0.7'], yW: 24,
        kind: 'step', vals: espRight[r], color: espColor[r]});
    txt(677, z - 11, gTrackNames[10 + r], 'r s');
});
l1Bar(273, 445, l1SpanL);
l1Bar(470, 643, l1SpanR);
txt(677, 754, 'L1', 'r s');
box('ln', 682, 455, 1, 177);
txt(691, 540, 'GRO-seq', 'v');
box('ln', 682, 668, 1, 76);
txt(691, 698, 'H3K9me3 eSPAN bias', 'v');

// ==========================
// h : L1 mobility
// ==========================
{
    const cv = makeCanvas(61, 605, 143, 718, 30, 2, 12, 6, PADB);
    new Chart(cv, {
        type: 'bar',
        data: {
            labels: hGroups,
            datasets: [
                {type: 'line', showLine: false, data: hPts.flatMap((g, i) => g.map(v => ({x: hGroups[i], y: v}))),
                 pointRadius: 1.6, pointBackgroundColor: '#000', pointBorderWidth: 0},
                {data: hMean, backgroundColor: ['#a6a6a6', BLUE, RED], barPercentage: 0.66, categoryPercentage: 1}
            ]
        },
        options: {
            layout: {padding: {left: 0, top: 12, right: 6, bottom: PADB}},
            scales: {
                x: xCat(2, null),
                y: yLin(0, 15.4, hTicks, ['0', '5', '10', '15'], 30, 'Relative L1 mobility')
            }
        },
        plugins: [
            {
                id: 'errs',
                afterDatasetsDraw(chart) {
                    const ctx = chart.ctx, x = chart.scales.x, y = chart.scales.y;
                    ctx.save();
                    ctx.strokeStyle = '#000';
                    ctx.lineWidth = 1;
                    hErrLo.forEach((lo, i) => {
                        if (lo === hErrHi[i]) return;
                        const px = Math.round(x.getPixelForValue(i)) + 0.5;
                        const a = Math.round(y.getPixelForValue(lo)) + 0.5, b = Math.round(y.getPixelForValue(hErrHi[i])) + 0.5;
                        ctx.beginPath();
                        ctx.moveTo(px, a); ctx.lineTo(px, b);
                        ctx.moveTo(px - 4, a); ctx.lineTo(px + 4, a);
                        ctx.moveTo(px - 4, b); ctx.lineTo(px + 4, b);
                        ctx.stroke();
                    });
                    ctx.restore();
                }
            },
            bracketLayer([[0, 1, 12.8, '****', 3, 0], [0, 2, 14.5, '**', 3, 0]], 7, '#333')
        ]
    });
}
txt(2, 597, 'h', 'L');
txt(48, 597, 'HeLa');
box('sw', 160, 672, 14, 8, 'background:#a6a6a6;border-color:#999');
box('sw', 160, 687, 14, 8, `background:${BLUE};border-color:#1580b5`);
box('sw', 160, 702, 14, 8, `background:${RED};border-color:#d85c56`);
txt(177, 675, 'WT');
txt(177, 690, 'POLE3 KD');
txt(177, 706, 'POLE4 KD');

// ==========================
// i : leading strand
// ==========================
{
    const cv = makeCanvas(60, 757, 185, 887, 43, 24, 8, 8, PADB);
    new Chart(cv, {
        type: 'line',
        data: {
            datasets: [
                {data: [{x: 0, y: iRef}, {x: 1.04, y: iRef}], borderColor: '#cfcfcf', borderWidth: 1.2, pointRadius: 0},
                {data: iBias.map((x, i) => ({x: x, y: iProp[i]})), borderColor: '#e0203a', borderWidth: 1.6, pointRadius: 0, tension: 0}
            ]
        },
        options: {
            layout: {padding: {left: 0, top: 8, right: 8, bottom: PADB}},
            scales: {
                x: xLin(-0.062, 1.044, [0, 0.2, 0.4, 0.6, 0.8, 1], ['0', '0.2', '0.4', '0.6', '0.8', '1'], 24,
                    'H3K9me3 bias (absolute value)', -2),
                y: yLin(-0.075, 1.04, [0, 0.5, 1], ['0', '0.5', '1'], 43, ['Proportion of Insertions', 'on Leading Strand'])
            }
        }
    });
}
txt(3, 745, 'i', 'L');
txt(45, 749, 'HeLa');

// ==========================
// j : observed bias
// ==========================
{
    const cv = makeCanvas(248, 783, 436, 883, 0, 29, 6, 10, PADB);
    const mk = (vals, sign, color) => ({
        data: jBias.map((x, i) => ({x: x, y: sign * vals[i]})),
        borderColor: color, borderWidth: 1.6, pointRadius: 0, tension: 0.3
    });
    const vline = (x, h, color) => ({
        data: [{x: x, y: -h}, {x: x, y: h}], borderColor: color, borderWidth: 1.6, pointRadius: 0
    });
    new Chart(cv, {
        type: 'line',
        data: {
            datasets: [
                mk(jCrick, 1, '#1b9e77'), mk(jCrick, -1, '#1b9e77'),
                mk(jWatson, 1, '#d95f02'), mk(jWatson, -1, '#d95f02'),
                vline(jObsCrick, 0.95, '#1b9e77'), vline(jObsWatson, 0.85, '#d95f02')
            ]
        },
        options: {
            layout: {padding: {left: 0, top: 6, right: 10, bottom: PADB}},
            scales: {
                x: xLin(-1.106, 1.106, [-1, -0.5, 0, 0.5, 1], ['-1.0', '-0.5', '0', '0.5', '1.0'], 29, 'H3K9me3 bias', 1),
                y: {type: 'linear', min: -1.05, max: 1.05, display: false}
            }
        },
        plugins: [{
            id: 'frame',
            beforeDatasetsDraw(chart) {
                const {ctx, chartArea: a} = chart;
                const y0 = Math.round(chart.scales.y.getPixelForValue(0)) + 0.5;
                const x0 = Math.round(chart.scales.x.getPixelForValue(0)) + 0.5;
                ctx.save();
                ctx.strokeStyle = '#111';
                ctx.beginPath();
                ctx.moveTo(a.left, y0); ctx.lineTo(a.right, y0);
                ctx.moveTo(x0, a.top); ctx.lineTo(x0, a.bottom);
                ctx.stroke();
                ctx.restore();
            },
            afterDatasetsDraw(chart) {
                const {ctx, chartArea: a} = chart;
                ctx.save();
                ctx.strokeStyle = '#111';
                ctx.lineWidth = 1.2;
                ctx.strokeRect(Math.round(a.left) + 0.5, Math.round(a.top) + 0.5, Math.round(a.width) - 1, Math.round(a.height) - 1);
                ctx.restore();
            }
        }]
    });
}
txt(221, 778, 'j', 'L');
txt(236, 777, 'HeLa');
txt(341, 777, 'Observed', 'c');
box('ln', 251, 792, 14, 1.6, 'background:#1b9e77');
box('ln', 251, 802, 14, 1.6, 'background:#d95f02');
txt(268, 793, 'Crick');
txt(268, 803, 'Watson');

// ==========================
// k : gamma-H2AX
// ==========================
const kLanes = [0, -0.13, 0.13, -0.26, 0.26, -0.39, 0.39, -0.07, 0.07, -0.2, 0.2, -0.33, 0.33];
{
    const cv = makeCanvas(513, 785, 606, 905, 32, 2, 10, 6, PADB);
    const cloud = (vals, g, color) => ({
        data: vals.map((v, k) => ({x: g + kLanes[k % kLanes.length], y: v})),
        pointRadius: 1.4, pointBackgroundColor: color, pointBorderWidth: 0
    });
    new Chart(cv, {
        type: 'scatter',
        data: {
            datasets: [
                cloud(kWT, 0, '#a8a8a8'), cloud(kPole3, 1, BLUE),
                cloud(kPole4, 2, '#f07070'), cloud(kHU, 3, '#8a7fc8')
            ]
        },
        options: {
            layout: {padding: {left: 0, top: 10, right: 6, bottom: PADB}},
            scales: {
                x: {type: 'linear', min: -0.5, max: 3.5, afterFit: s => { s.height = 2; },
                    border: {color: INK}, grid: {display: false, drawTicks: false}, ticks: {display: false}},
                y: yLin(-0.1, 12.0, kTicks, ['0', '5', '10'], 32, 'Relative \u03B3-H2AX intensity')
            }
        },
        plugins: [
            {
                id: 'meanSd',
                afterDatasetsDraw(chart) {
                    const ctx = chart.ctx, x = chart.scales.x, y = chart.scales.y;
                    ctx.save();
                    ctx.strokeStyle = '#000';
                    kMean.forEach((m, g) => {
                        const px = Math.round(x.getPixelForValue(g)) + 0.5;
                        const pm = y.getPixelForValue(m), lo = y.getPixelForValue(kSdLo[g]), hi = y.getPixelForValue(kSdHi[g]);
                        ctx.lineWidth = 2;
                        ctx.beginPath(); ctx.moveTo(px - 8, pm); ctx.lineTo(px + 8, pm); ctx.stroke();
                        ctx.lineWidth = 1.5;
                        ctx.beginPath();
                        ctx.moveTo(px, lo); ctx.lineTo(px, hi);
                        ctx.moveTo(px - 5, lo); ctx.lineTo(px + 5, lo);
                        ctx.moveTo(px - 5, hi); ctx.lineTo(px + 5, hi);
                        ctx.stroke();
                    });
                    ctx.restore();
                }
            },
            bracketLayer([[0, 1, 9.1, '****'], [0, 2, 10.6, '****'], [0, 3, 11.7, '****']], 7, '#333')
        ]
    });
}
txt(465, 777, 'k', 'L');
txt(498, 777, 'HeLa');
box('sw', 620, 834, 15, 8, 'background:#a8a8a8;border-color:#999');
box('sw', 620, 850, 15, 8, `background:${BLUE};border-color:#1580b5`);
box('sw', 620, 866, 15, 8, 'background:#f07070;border-color:#d85c56');
box('sw', 620, 882, 15, 8, 'background:#8a7fc8;border-color:#6f64ad');
txt(638, 838, 'WT');
txt(638, 854, 'POLE3 KD');
txt(638, 870, 'POLE4 KD');
txt(638, 885, 'WT + HU');
</script>
</body>
</html>
